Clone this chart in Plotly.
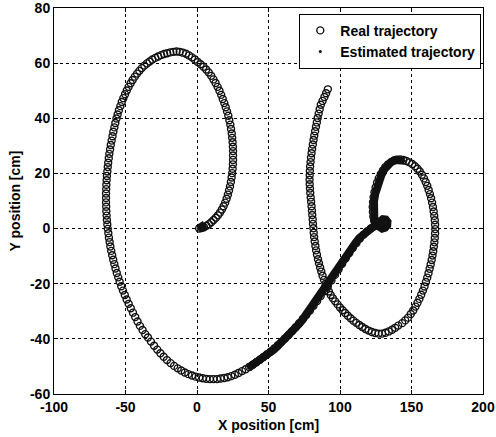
import plotly.graph_objects as go

# ---- data (cm) ----
real_strand = [(91.5,50.5),(90.3,49.1),(89.1,47.7),(87.8,46.3),(86.6,44.9),(85.8,43.3),(85.1,41.7),(84.4,40.1),(83.8,38.5),(83.2,36.9),(82.6,35.3),(82.0,33.7),(81.5,32.1),(81.0,30.5),(80.5,28.9),(80.1,27.3),(79.7,25.7),(79.4,24.1),(79.1,22.5),(78.9,20.9),(78.8,19.3),(78.7,17.7),(78.8,16.1),(79.0,14.5),(79.2,12.9),(79.5,11.3),(79.8,9.7),(80.1,8.1),(80.4,6.5),(80.6,4.9),(80.9,3.3),(81.1,1.7),(81.4,0.1),(81.6,-1.5),(81.9,-3.1),(82.3,-4.7),(82.8,-6.3),(83.3,-7.9),(83.9,-9.5),(84.6,-11.1),(85.3,-12.6),(86.1,-14.1),(86.9,-15.6),(87.8,-17.1),(88.8,-18.6),(89.9,-20.0)]

real_right_loop = [(91.0,-21.4),(92.2,-22.8),(93.5,-24.1),(95.0,-25.3),(96.6,-26.4),(98.3,-27.5),(100.0,-28.6),(101.8,-29.6),(103.6,-30.6),(105.5,-31.6),(107.4,-32.5),(109.4,-33.4),(111.4,-34.2),(113.5,-35.0),(115.6,-35.7),(117.8,-36.4),(120.0,-37.0),(122.3,-37.5),(124.6,-37.9),(127.0,-38.1),(129.4,-38.1),(131.8,-37.8),(134.1,-37.3),(136.4,-36.7),(138.6,-36.0),(140.7,-35.2),(143.5,-34.3),(145.6,-33.3),(147.6,-32.3),(149.5,-31.0),(151.2,-29.7),(152.8,-28.3),(154.2,-26.9),(155.5,-25.5),(156.8,-24.0),(158.0,-22.5),(159.1,-21.0),(160.1,-19.4),(161.0,-17.8),(161.9,-16.2),(162.7,-14.6),(163.4,-13.0),(164.1,-11.4),(164.7,-9.8),(165.2,-8.2),(165.6,-6.6),(166.0,-5.0),(166.3,-3.4),(166.5,-1.8),(166.6,-0.2),(166.5,1.4),(166.3,3.0),(165.9,4.6),(165.5,6.2),(165.0,7.8),(164.4,9.4),(163.7,11.0),(162.9,12.5),(162.0,14.0),(161.0,15.5),(159.9,16.9),(158.7,18.2),(157.3,19.5),(155.8,20.7),(154.2,21.7),(152.4,22.6),(150.5,23.4),(148.5,24.0),(146.4,24.5),(144.3,24.9),(142.1,25.1),(139.9,25.0),(137.7,24.7),(135.6,24.1),(133.6,23.3),(131.7,22.3),(130.0,21.1),(128.5,19.7),(127.1,18.2),(125.9,16.6),(124.9,14.9),(124.1,13.2),(123.5,11.4),(123.1,9.6),(122.9,7.8),(123.0,6.0),(123.3,4.3),(124.0,2.7),(125.2,1.5),(126.8,0.9)]

real_diagonal = [(124.0,0.8),(121.5,0.0),(119.0,-1.0),(116.5,-2.2),(114.0,-3.6),(111.5,-5.2),(109.0,-7.0),(106.5,-8.9),(104.0,-10.8),(101.5,-12.8),(99.0,-14.8),(96.5,-16.8),(94.0,-18.8),(91.5,-20.8),(89.0,-22.7),(86.5,-24.5),(84.0,-26.3),(81.5,-28.0),(79.0,-29.7),(76.5,-31.3),(74.0,-32.8),(71.5,-34.3),(69.0,-35.8),(66.5,-37.2),(64.0,-38.6),(61.5,-39.9),(59.0,-41.1),(56.5,-42.3),(54.0,-43.5),(51.5,-44.6),(49.0,-45.6),(46.5,-46.6),(44.0,-47.6),(41.5,-48.5),(39.0,-49.4),(36.5,-50.2),(34.0,-51.0),(31.5,-51.7),(29.0,-52.4),(26.5,-53.0),(24.0,-53.5),(21.5,-53.9),(19.0,-54.2),(16.5,-54.4),(14.0,-54.6),(11.5,-54.6),(9.0,-54.6),(6.5,-54.5),(4.0,-54.3),(1.5,-54.0),(-1.0,-53.7),(-3.5,-53.3),(-6.0,-52.8),(-8.5,-52.2),(-11.0,-51.5),(-13.5,-50.7),(-16.0,-49.8),(-18.5,-48.8),(-21.0,-47.7),(-23.3,-46.5),(-25.6,-45.2),(-27.8,-43.9),(-30.0,-42.5),(-32.2,-41.0),(-34.3,-39.5)]

real_left_loop = [(-36.2,-38.3),(-38.1,-36.8),(-39.9,-35.3),(-41.6,-33.7),(-43.2,-32.1),(-44.8,-30.5),(-46.3,-28.9),(-47.8,-27.3),(-49.2,-25.7),(-50.5,-24.1),(-51.8,-22.5),(-53.0,-20.9),(-54.1,-19.3),(-55.1,-17.7),(-56.1,-16.1),(-57.0,-14.5),(-57.8,-12.9),(-58.6,-11.3),(-59.3,-9.7),(-60.0,-8.1),(-60.6,-6.5),(-61.1,-4.9),(-61.6,-3.3),(-62.0,-1.7),(-62.4,-0.1),(-62.7,1.5),(-63.0,3.1),(-63.2,4.7),(-63.4,6.3),(-63.5,7.9),(-63.6,9.5),(-63.6,11.1),(-63.6,12.7),(-63.5,14.3),(-63.4,15.9),(-63.2,17.5),(-63.0,19.1),(-62.7,20.7),(-62.4,22.3),(-62.1,23.9),(-61.7,25.5),(-61.3,27.1),(-60.8,28.7),(-60.3,30.3),(-59.7,31.9),(-59.1,33.5),(-58.5,35.1),(-57.8,36.7),(-57.1,38.3),(-56.3,39.9),(-55.5,41.4),(-54.6,42.9),(-53.6,44.4),(-52.6,45.9),(-51.5,47.3),(-50.3,48.7),(-49.1,50.1),(-47.8,51.4),(-46.4,52.7),(-45.0,53.9),(-43.5,55.1),(-41.9,56.2),(-40.3,57.2),(-38.6,58.2),(-36.8,59.1),(-35.0,59.9),(-33.1,60.6),(-31.2,61.3),(-29.2,61.9),(-27.2,62.4),(-25.1,62.9),(-23.0,63.3),(-20.9,63.6),(-18.7,63.9),(-16.5,64.1),(-14.3,64.2),(-12.1,64.1),(-9.9,63.8),(-7.7,63.4),(-5.6,62.8),(-3.5,62.1),(-1.5,61.3),(0.5,60.4),(2.5,59.6),(4.5,58.7),(6.4,57.7),(8.2,56.6),(9.9,55.4),(11.5,54.1),(13.0,52.8),(14.4,51.4),(15.7,50.0),(16.9,48.5),(18.0,47.0),(19.1,45.5),(20.1,44.0),(21.0,42.5),(21.9,40.9),(22.6,39.3),(23.3,37.7),(23.8,36.1),(24.3,34.5),(24.6,32.9),(24.9,31.3),(25.1,29.7),(25.2,28.1),(25.2,26.5),(25.2,24.9),(25.1,23.3),(24.9,21.7),(24.6,20.1),(24.2,18.5),(23.7,16.9),(23.1,15.3),(22.4,13.8),(21.6,12.3),(20.7,10.8),(19.7,9.4),(18.6,8.1),(17.4,6.9),(16.1,5.8),(14.7,4.8),(13.2,3.9),(11.6,3.1),(10.0,2.3),(8.3,1.6),(6.6,1.0),(4.9,0.5),(3.2,0.2),(1.5,0.0)]

est_start = [(1.0,0.0),(2.5,0.3),(4.0,0.8),(5.5,1.5)]
est_main = [(145.0,24.6),(142.0,25.1),(139.0,24.9),(136.0,24.2),(133.3,23.0),(131.0,21.5),(129.0,19.5),(127.2,17.3),(125.7,15.0),(124.6,12.5),(123.8,10.0),(123.4,7.5),(123.4,5.0),(124.0,3.0),(125.5,1.5),(127.5,0.5),(129.5,0.0),(131.5,0.3),(133.0,1.2),(133.2,2.5),(132.0,3.3),(130.0,3.4),(128.0,2.6),(126.0,1.6),(123.5,1.0),(121.0,0.3),(118.5,-0.7),(116.0,-1.9),(113.5,-3.4),(111.0,-5.1),(108.5,-7.0),(106.0,-9.0),(103.5,-11.0),(101.0,-13.0),(98.5,-15.0),(96.0,-17.0),(93.5,-19.0),(91.0,-21.0),(88.5,-23.0),(86.0,-24.8),(83.5,-26.6),(81.0,-28.4),(78.5,-30.2),(76.0,-31.8),(73.5,-33.3),(71.0,-34.8),(68.5,-36.3),(66.0,-37.7),(63.5,-39.1),(61.0,-40.4),(58.5,-41.6),(56.0,-42.8),(53.5,-44.0),(51.0,-45.0),(48.5,-46.0),(46.0,-47.0),(43.5,-48.0),(41.0,-48.9),(38.5,-49.7),(36.0,-50.5)]

x_ticks = [-100, -50, 0, 50, 100, 150, 200]
x_tick_text = ["-100", "-50", "0", "50", "100", "150", "200"]
y_ticks = [-60, -40, -20, 0, 20, 40, 60, 80]
y_tick_text = ["-60", "-40", "-20", "0", "20", "40", "60", "80"]

real = real_strand + real_right_loop + real_diagonal + real_left_loop
real_x = [p[0] for p in real]
real_y = [p[1] for p in real]

est_x = [p[0] for p in est_start] + [None] + [p[0] for p in est_main]
est_y = [p[1] for p in est_start] + [None] + [p[1] for p in est_main]

FONT = "Liberation Sans, Arial, Helvetica, sans-serif"
INK = "#111111"

fig = go.Figure()
fig.add_trace(go.Scatter(
    x=real_x, y=real_y, mode="markers", name="Real trajectory",
    marker=dict(symbol="circle-open", size=7, color=INK, line=dict(width=1.4)),
))
# dense estimated samples rendered as a continuous band
fig.add_trace(go.Scatter(
    x=est_x, y=est_y, mode="lines", showlegend=False, hoverinfo="skip",
    line=dict(color=INK, width=8), connectgaps=False,
))
fig.add_trace(go.Scatter(
    x=est_x, y=est_y, mode="markers", name="Estimated trajectory",
    marker=dict(symbol="circle", size=3, color=INK),
))

axis_common = dict(
    showline=True, linecolor="black", linewidth=1, mirror="ticks",
    ticks="inside", ticklen=4, tickcolor="black",
    showgrid=True, gridcolor="black", gridwidth=1, griddash="3px,3px",
    zeroline=False, ticklabeloverflow="allow", automargin=False,
    tickfont=dict(family=FONT, size=14, color="black", weight="bold"),
)

fig.update_xaxes(range=[-100, 200], tickvals=x_ticks, ticktext=x_tick_text,
                 title=dict(text="X position [cm]", standoff=6,
                            font=dict(family=FONT, size=14, color="black", weight="bold")),
                 **axis_common)
fig.update_yaxes(range=[-60, 80], tickvals=y_ticks, ticktext=y_tick_text,
                 title=dict(text="Y position [cm]", standoff=6,
                            font=dict(family=FONT, size=14, color="black", weight="bold")),
                 **axis_common)

fig.update_layout(
    width=496, height=437,
    margin=dict(l=54, r=13, t=8, b=43),
    paper_bgcolor="white", plot_bgcolor="white",
    legend=dict(x=0.996, y=0.985, xanchor="right", yanchor="top",
                bgcolor="white", bordercolor="black", borderwidth=1,
                font=dict(family=FONT, size=14, color="black", weight="bold"),
                tracegroupgap=0),
    showlegend=True,
)

fig.write_html("out.html")
